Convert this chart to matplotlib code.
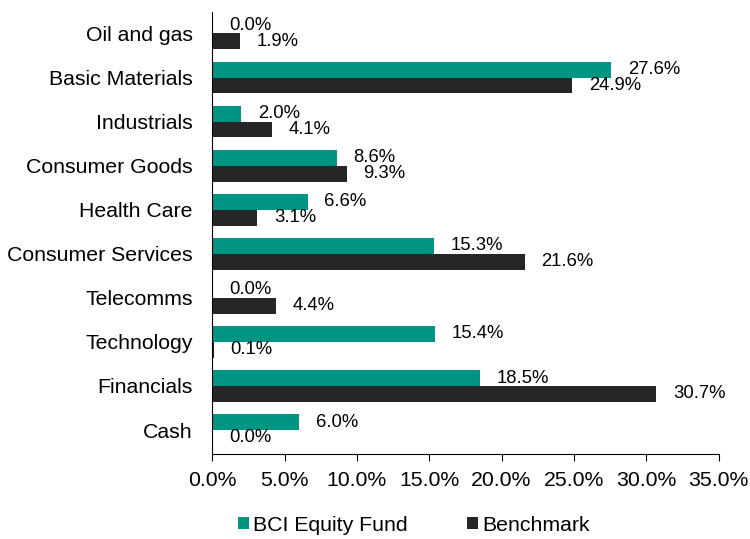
import numpy as np
from matplotlib import pyplot as plt
from matplotlib.ticker import FuncFormatter

plt.rcParams['font.family'] = ['Liberation Sans', 'DejaVu Sans']

sectors = ["Oil and gas", "Basic Materials", "Industrials", "Consumer Goods",
           "Health Care", "Consumer Services", "Telecomms", "Technology",
           "Financials", "Cash"]
fund = [0.0, 27.6, 2.0, 8.6, 6.6, 15.3, 0.0, 15.4, 18.5, 6.0]
bench = [1.9, 24.9, 4.1, 9.3, 3.1, 21.6, 4.4, 0.1, 30.7, 0.0]

teal = "#009482"
dark = "#262626"

fig = plt.figure(figsize=(7.5, 5.39), dpi=100)
ax = fig.add_axes([0.283, 0.158, 0.675, 0.82])

y = np.arange(len(sectors))
h = 0.36
b1 = ax.barh(y - h/2, fund, height=h, color=teal, label="BCI Equity Fund")
b2 = ax.barh(y + h/2, bench, height=h, color=dark, label="Benchmark")

for bars, vals in [(b1, fund), (b2, bench)]:
    for bar, v in zip(bars, vals):
        ax.annotate("{:.1f}%".format(v), (v, bar.get_y() + bar.get_height()/2),
                    xytext=(12, 0), textcoords="offset points",
                    va="center", ha="left", fontsize=13.3)

ax.set_yticks(y)
ax.set_yticklabels(sectors, fontsize=15.3)
ax.tick_params(axis="y", length=0, pad=14)
ax.set_ylim(9.54, -0.49)
ax.set_xlim(0, 35)
ax.set_xticks(np.arange(0, 36, 5))
ax.xaxis.set_major_formatter(FuncFormatter(lambda v, p: "{:.1f}%".format(v)))
ax.tick_params(axis="x", labelsize=15.3, length=5, direction="out", pad=7)
for s in ["top", "right"]:
    ax.spines[s].set_visible(False)

fig.legend(loc="lower center", bbox_to_anchor=(0.552, -0.028), ncol=2, frameon=False,
           fontsize=15.3, handlelength=0.5, handleheight=0.5, handletextpad=0.2,
           columnspacing=2.8)

fig.savefig("out.png", dpi=100)
